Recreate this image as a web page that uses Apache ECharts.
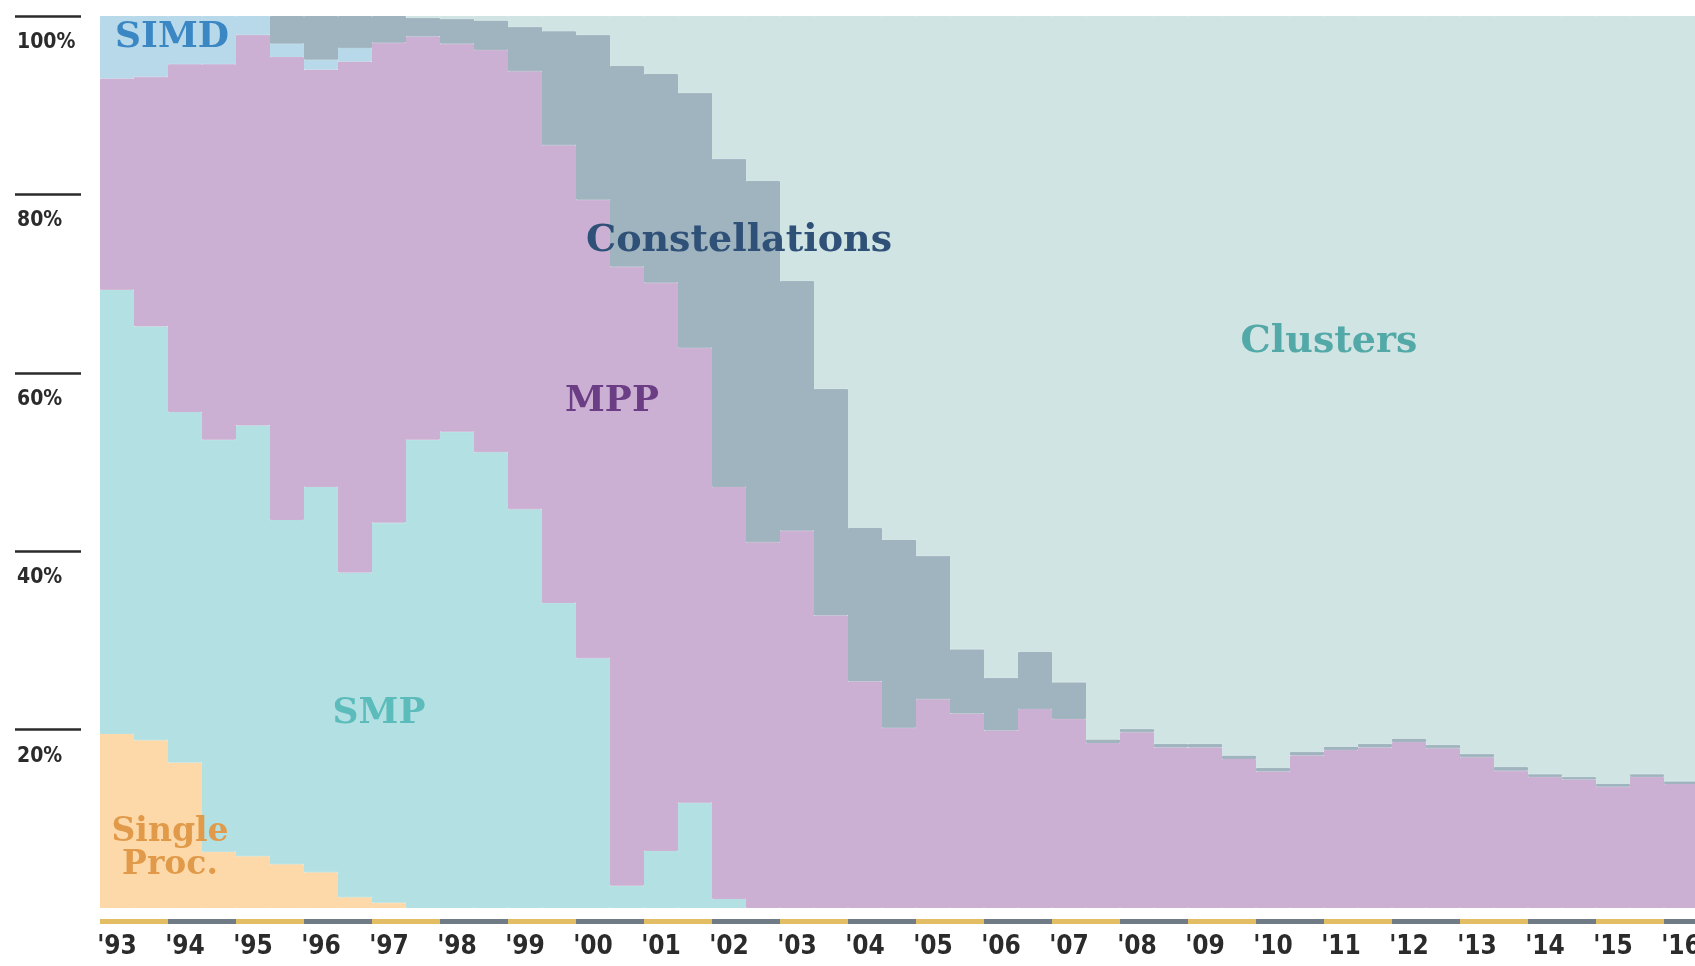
<!DOCTYPE html>
<html>
<head>
<meta charset="utf-8">
<script src="https://cdn.jsdelivr.net/npm/echarts@6/dist/echarts.min.js"></script>
<style>
html, body { margin: 0; padding: 0; background: #fff; }
#main { width: 1695px; height: 966px; }
</style>
</head>
<body>
<div id="main"></div>
<script>
// one entry per TOP500 list (June / November)
var lists = [
  '1993-06','1993-11','1994-06','1994-11','1995-06','1995-11','1996-06','1996-11',
  '1997-06','1997-11','1998-06','1998-11','1999-06','1999-11','2000-06','2000-11',
  '2001-06','2001-11','2002-06','2002-11','2003-06','2003-11','2004-06','2004-11',
  '2005-06','2005-11','2006-06','2006-11','2007-06','2007-11','2008-06','2008-11',
  '2009-06','2009-11','2010-06','2010-11','2011-06','2011-11','2012-06','2012-11',
  '2013-06','2013-11','2014-06','2014-11','2015-06','2015-11','2016-06'
];
var yearLabels = ["'93","'94","'95","'96","'97","'98","'99","'00","'01","'02","'03","'04",
                  "'05","'06","'07","'08","'09","'10","'11","'12","'13","'14","'15","'16"];
var pctTicks = [20, 40, 60, 80, 100];

// shares in % (bottom to top)
var singleProc = [19.5,18.8,16.3,6.3,5.8,4.9,4.0,1.2,0.6,0,0,0,0,0,0,0,0,0,0,0,0,0,0,0,
                  0,0,0,0,0,0,0,0,0,0,0,0,0,0,0,0,0,0,0,0,0,0,0];
var smp = [49.8,46.4,39.3,46.2,48.3,38.6,43.2,36.4,42.6,52.5,53.4,51.1,44.7,34.2,28.0,2.5,
           6.4,11.8,1.0,0,0,0,0,0,0,0,0,0,0,0,0,0,0,0,0,0,0,0,0,0,0,0,0,0,0,0,0];
var mpp = [23.7,28.0,39.0,42.1,43.8,51.9,46.8,57.3,53.8,45.2,43.5,45.1,49.1,51.3,51.4,69.4,
           63.7,51.0,46.2,41.0,42.3,32.8,25.4,20.2,23.4,21.8,19.9,22.3,21.2,18.5,19.7,18.0,
           18.0,16.7,15.3,17.1,17.7,18.0,18.6,17.9,16.9,15.4,14.7,14.4,13.6,14.7,13.9];
var simd = [7.0,6.8,5.4,5.4,2.1,1.5,1.1,1.5,0,0,0,0,0,0,0,0,0,0,0,0,0,0,0,0,
            0,0,0,0,0,0,0,0,0,0,0,0,0,0,0,0,0,0,0,0,0,0,0];
var constellations = [0,0,0,0,0,3.1,4.9,3.6,3.0,2.1,2.8,3.3,5.0,12.8,18.5,22.5,23.4,28.6,
                      36.8,40.5,28.0,25.4,17.2,21.1,16.1,7.2,5.9,6.4,4.1,0.4,0.4,0.4,0.4,
                      0.4,0.4,0.4,0.4,0.4,0.4,0.4,0.4,0.4,0.3,0.3,0.3,0.3,0.3];
var clusters = [0,0,0,0,0,0,0,0,0,0.2,0.3,0.5,1.2,1.7,2.1,5.6,6.5,8.6,16.0,18.5,29.7,41.8,
                57.4,58.7,60.5,71.0,74.2,71.3,74.7,81.1,79.9,81.6,81.6,82.9,84.3,82.5,81.9,
                81.6,81.0,81.7,82.7,84.2,85.0,85.3,86.1,85.0,85.8];

var axisFont = "'Liberation Sans Narrow','DejaVu Sans Condensed',sans-serif";
var labelFont = "'DejaVu Serif',serif";

function layer(name, values, color) {
  return {
    name: name,
    type: 'bar',
    stack: 'share',
    barCategoryGap: '0%',
    // empty lists are left out so they draw no border
    data: values.map(function (v) { return v > 0 ? v : '-'; }),
    itemStyle: { color: color, borderColor: color, borderWidth: 1 },
    silent: true
  };
}

function tag(text, x, y, color, size) {
  return {
    type: 'text',
    z: 100,
    x: x,
    y: y,
    style: {
      text: text,
      fill: color,
      font: 'bold ' + size + 'px ' + labelFont,
      textAlign: 'center',
      textVerticalAlign: 'middle',
      lineHeight: 33
    }
  };
}

var myChart = echarts.init(document.getElementById('main'));

var option = {
  backgroundColor: '#fff',
  animation: false,
  grid: [
    { left: 100, top: 16, width: 1598, height: 892, outerBoundsMode: 'none' },
    { left: 100, top: 919, width: 1632, height: 5, outerBoundsMode: 'none' }
  ],
  xAxis: [{
    type: 'category',
    gridIndex: 0,
    data: lists,
    axisLine: { show: false },
    axisTick: { show: false },
    axisLabel: {
      interval: 1,
      margin: 26,
      verticalAlign: 'top',
      fontFamily: axisFont,
      fontWeight: 'bold',
      fontSize: 26,
      color: '#2b2b2b',
      formatter: function (v) { return "'" + v.slice(2, 4); }
    }
  }, {
    type: 'category',
    gridIndex: 1,
    data: yearLabels,
    show: false
  }],
  yAxis: [{
    type: 'value',
    gridIndex: 0,
    min: 0,
    max: 100,
    interval: 20,
    offset: 19,
    axisLine: { show: false },
    splitLine: { show: false },
    axisTick: {
      show: true,
      length: 66,
      customValues: pctTicks,
      lineStyle: { color: '#2b2b2b', width: 2.5 }
    },
    axisLabel: {
      customValues: pctTicks,
      align: 'left',
      margin: 64,
      verticalAlign: 'top',
      padding: [16, 0, 0, 0],
      fontFamily: axisFont,
      fontWeight: 'bold',
      fontSize: 21,
      color: '#2b2b2b',
      formatter: '{value}%'
    }
  }, {
    type: 'value',
    gridIndex: 1,
    min: 0,
    max: 1,
    show: false
  }],
  series: [
    layer('Single Proc.', singleProc, '#fdd9a9'),
    layer('SMP', smp, '#b3e0e2'),
    layer('MPP', mpp, '#cbb0d3'),
    layer('SIMD', simd, '#b7d9e9'),
    layer('Constellations', constellations, '#a0b4bf'),
    layer('Clusters', clusters, '#d0e4e4'),
    {
      type: 'bar',
      xAxisIndex: 1,
      yAxisIndex: 1,
      barCategoryGap: '0%',
      silent: true,
      data: yearLabels.map(function (y, i) {
        return { value: 1, itemStyle: { color: i % 2 === 0 ? '#e2bd64' : '#6f7c86' } };
      })
    }
  ],
  graphic: [
    tag('SIMD', 172, 38, '#3b87c4', 36),
    tag('Constellations', 739, 241, '#2f5077', 38),
    tag('Clusters', 1329, 342, '#52a9a7', 38),
    tag('MPP', 612, 402, '#6a3d84', 36),
    tag('SMP', 379, 714, '#5bbcbb', 36),
    tag('Single\nProc.', 170, 849, '#e09a4a', 33)
  ]
};

myChart.setOption(option);
</script>
</body>
</html>
